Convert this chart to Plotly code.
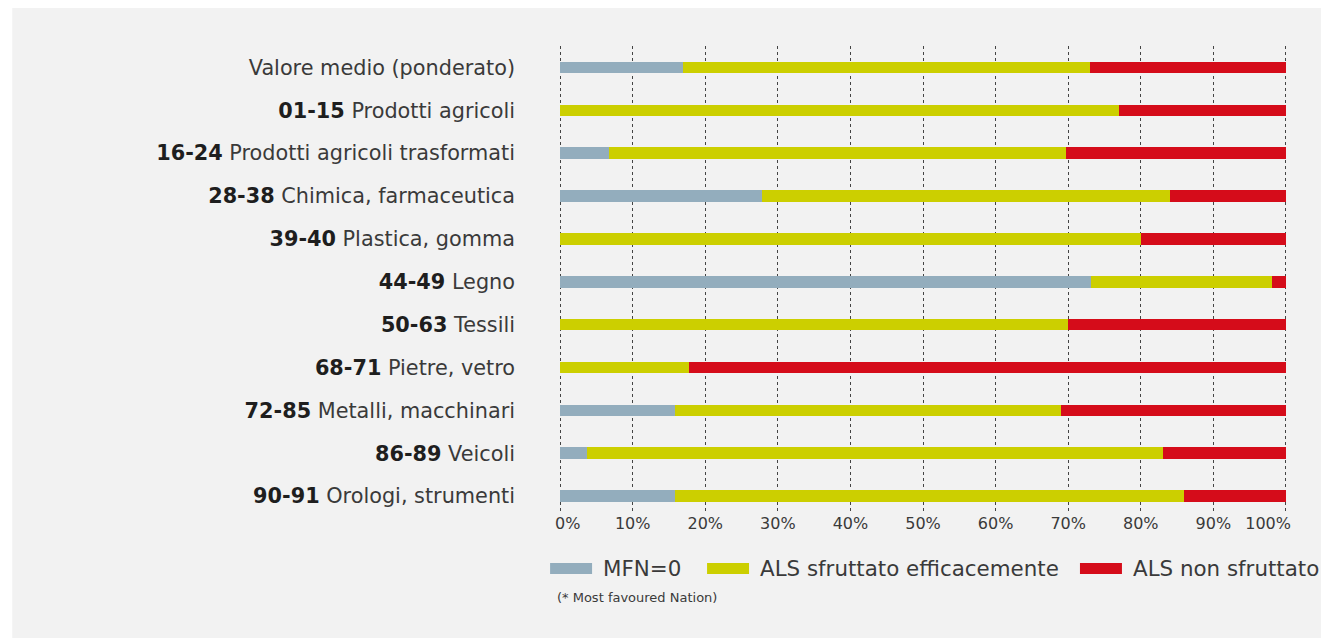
import plotly.graph_objects as go

codes = ["", "01-15", "16-24", "28-38", "39-40", "44-49", "50-63", "68-71", "72-85", "86-89", "90-91"]
names = ["Valore medio (ponderato)", "Prodotti agricoli", "Prodotti agricoli trasformati",
         "Chimica, farmaceutica", "Plastica, gomma", "Legno", "Tessili", "Pietre, vetro",
         "Metalli, macchinari", "Veicoli", "Orologi, strumenti"]

mfn0 = [17.0, 0.0, 6.8, 27.8, 0.0, 73.1, 0.0, 0.0, 15.8, 3.7, 15.8]
als_eff = [56.0, 77.0, 62.9, 56.2, 80.0, 25.0, 70.0, 17.8, 53.2, 79.3, 70.2]
als_non = [27.0, 23.0, 30.3, 16.0, 20.0, 1.9, 30.0, 82.2, 31.0, 17.0, 14.0]

series_names = ["MFN=0", "ALS sfruttato efficacemente", "ALS non sfruttato"]
colors = ["#93adbd", "#cccf00", "#d50c1a"]
tick_vals = [0, 10, 20, 30, 40, 50, 60, 70, 80, 90, 100]
tick_text = [f"{v}%" for v in tick_vals]

NB = "\u00a0"
# first label sits right of its gridline, last one left of it (as in the original)
tick_text_shown = list(tick_text)
tick_text_shown[0] = NB * 3 + tick_text_shown[0]
tick_text_shown[-1] = tick_text_shown[-1] + NB * 7

labels = [f"<span style='color:#1e1e1e'><b>{c}</b></span> {n}" if c else n
          for c, n in zip(codes, names)]

FONT = "'DejaVu Sans', Roboto, sans-serif"
TXT = "#3a3a3a"

fig = go.Figure()
for vals, nm, col in zip([mfn0, als_eff, als_non], series_names, colors):
    fig.add_trace(go.Bar(
        y=labels, x=vals, name=nm, orientation="h",
        marker=dict(color=col, line=dict(width=0)),
        width=0.27, showlegend=False,
    ))

# page body has an 8px margin: figure coords = screen coords - 8
OFF = 8
W, H = 1329 - OFF, 638 - OFF
X0, X100 = 560, 1286          # screen px of 0% and 100%
PAD = 0.15                    # small range padding so edge gridlines show
sc = (X100 - X0) / 100.0
L = X0 - OFF - PAD * sc
R = W - (X100 - OFF + PAD * sc)
T = 45.5 - OFF
B = H - (512 - OFF)
pw = W - L - R
ph = H - T - B

def px2x(sx):
    return (sx - OFF - L) / pw

def py2y(sy):
    return (H - B - (sy - OFF)) / ph

shapes = [
    dict(type="rect", xref="paper", yref="paper", layer="below",
         x0=px2x(12), x1=px2x(1340), y0=py2y(650), y1=py2y(5),
         fillcolor="#f2f2f2", line=dict(width=0)),
]
annotations = []

# legend swatches and labels
leg = [(550, 592, 601), (707, 749, 758), (1080, 1122, 1131)]
for (sx0, sx1, tx), nm, col in zip(leg, series_names, colors):
    shapes.append(dict(type="rect", xref="paper", yref="paper",
                       x0=px2x(sx0), x1=px2x(sx1), y0=py2y(574), y1=py2y(563),
                       fillcolor=col, line=dict(width=0)))
    annotations.append(dict(xref="paper", yref="paper", x=px2x(tx), y=py2y(569),
                            xanchor="left", yanchor="middle", text=nm, showarrow=False,
                            font=dict(family=FONT, size=21.4, color=TXT)))

annotations.append(dict(xref="paper", yref="paper", x=px2x(555), y=py2y(598),
                        xanchor="left", yanchor="middle", text="(* Most favoured Nation)",
                        showarrow=False, font=dict(family=FONT, size=13, color=TXT)))

fig.update_layout(
    barmode="stack",
    width=W, height=H,
    margin=dict(l=L, r=R, t=T, b=B, pad=0, autoexpand=False),
    paper_bgcolor="white",
    plot_bgcolor="rgba(0,0,0,0)",
    font=dict(family=FONT, color=TXT),
    shapes=shapes,
    annotations=annotations,
    xaxis=dict(
        range=[-PAD, 100 + PAD], tickvals=tick_vals, ticktext=tick_text_shown,
        showgrid=True, gridcolor="#444444", griddash="dot", gridwidth=1,
        zeroline=False, showline=False, ticks="", automargin=False,
        tickfont=dict(family=FONT, size=16, color=TXT),
    ),
    yaxis=dict(
        range=[10.37, -0.5], showgrid=False, zeroline=False, showline=False,
        ticks="", ticklabelstandoff=43, automargin=False,
        tickfont=dict(family=FONT, size=20.8, color=TXT),
    ),
)

fig.write_html("out.html")
